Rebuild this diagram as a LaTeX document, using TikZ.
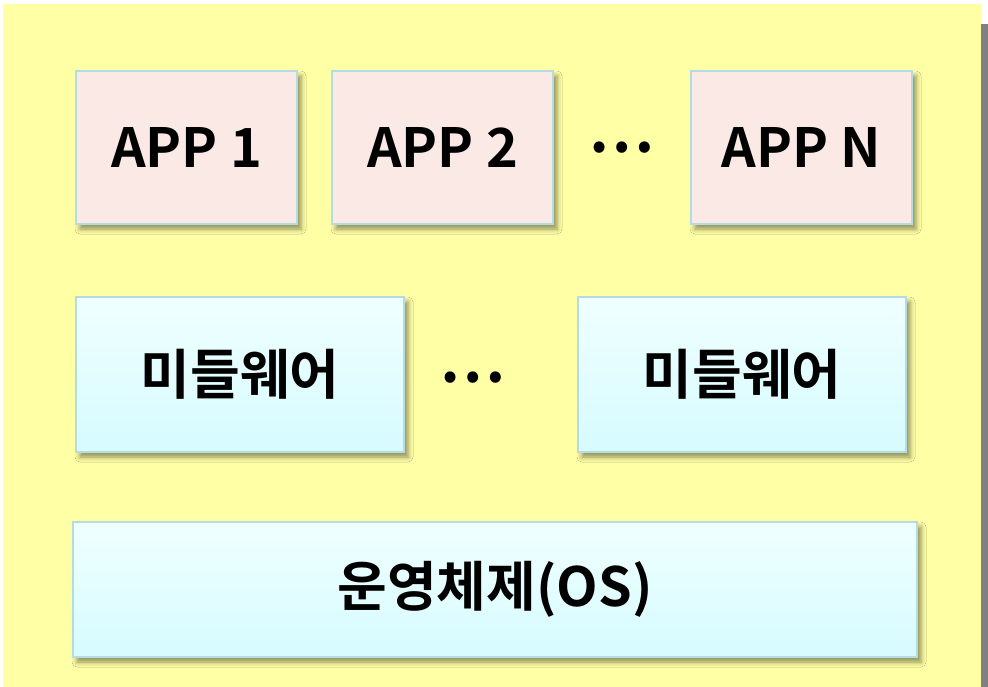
\documentclass[tikz,border=0pt]{standalone}
\usepackage{fontspec}
\setmainfont{Noto Sans CJK KR}[BoldFont={Noto Sans CJK KR Bold}]
\usetikzlibrary{positioning,calc,shadows.blur}
\definecolor{bgyellow}{HTML}{FFFFA6}
\definecolor{bgshadow}{HTML}{808080}
\definecolor{apppink}{HTML}{FBE9E6}
\definecolor{boxline}{HTML}{B6DCE3}
\definecolor{mwtop}{HTML}{F0FFFF}
\definecolor{mwbottom}{HTML}{D6FBFF}

\begin{document}
\begin{tikzpicture}[x=0.5pt, y=-0.5pt, node distance=16.5pt,
    box/.style={draw=boxline, line width=1pt, inner sep=0pt,
        font=\bfseries\fontsize{27}{32}\selectfont,
        blur shadow={shadow xshift=2pt, shadow yshift=-2.5pt, shadow blur radius=2.5pt, shadow opacity=45}},
    appbox/.style={box, fill=apppink, minimum width=110.5pt, minimum height=76.5pt},
    sysbox/.style={box, top color=mwtop, bottom color=mwbottom, minimum height=77.5pt},
    dotstext/.style={inner sep=0pt, font=\bfseries\fontsize{30}{32}\selectfont}]
    \useasboundingbox (0,0) rectangle (988,686);
    \fill[bgshadow] (10,24) rectangle (988,690);
    \fill[bgyellow] (3,4) rectangle (981,690);

    \node[appbox] (app1) at (186.5,147.5) {APP 1};
    \node[appbox, right=of app1] (app2) {APP 2};
    \node[appbox, right=68pt of app2] (appn) {APP N};
    \node[dotstext] (appdots) at ($(app2)!0.5!(appn)$) {…};

    \node[sysbox, minimum width=164pt, below right=35.5pt and 0pt of app1.south west] (mw1) {미들웨어};
    \node[sysbox, minimum width=164pt, right=86pt of mw1] (mw2) {미들웨어};
    \node[dotstext] (mwdots) at (473,378) {…};

    \node[sysbox, minimum width=422pt, minimum height=67.5pt, below right=34pt and -1.5pt of mw1.south west] (os) {운영체제(OS)};
\end{tikzpicture}
\end{document}
